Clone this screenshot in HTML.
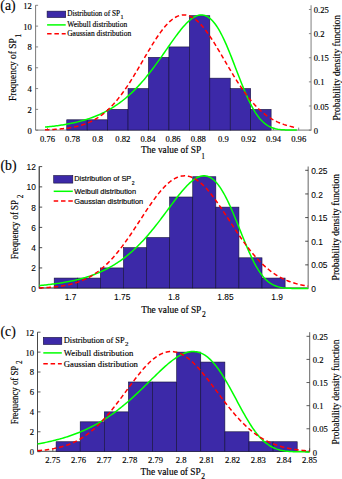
<!DOCTYPE html>
<html><head><meta charset="utf-8"><title>Distributions</title>
<style>html,body{margin:0;padding:0;background:#fff}svg{display:block}text{fill:#000;stroke:#000;stroke-width:0.15px}</style>
</head><body>
<svg width="342" height="479" viewBox="0 0 342 479">
<rect width="342" height="479" fill="#fff"/>
<path d="M35.6 5.2V130.1H311.1" fill="none" stroke="#6a6a6a" stroke-width="0.9"/>
<path d="M311.1 130.54999999999998V5.2" fill="none" stroke="#aaa" stroke-width="1.5"/>
<path d="M35.6 130.20h2.5M35.6 109.38h2.5M35.6 88.57h2.5M35.6 67.75h2.5M35.6 46.93h2.5M35.6 26.12h2.5M35.6 5.30h2.5M311.1 130.10h-2.2M311.1 105.98h-2.2M311.1 81.86h-2.2M311.1 57.74h-2.2M311.1 33.62h-2.2M311.1 9.50h-2.2M47.50 130.1v-2.5M72.62 130.1v-2.5M97.74 130.1v-2.5M122.86 130.1v-2.5M147.98 130.1v-2.5M173.10 130.1v-2.5M198.22 130.1v-2.5M223.34 130.1v-2.5M248.46 130.1v-2.5M273.58 130.1v-2.5M298.70 130.1v-2.5" fill="none" stroke="#6a6a6a" stroke-width="0.8"/>
<rect x="66.75" y="119.79" width="20.44" height="10.31" fill="#3c29a8" stroke="#14103a" stroke-width="0.6"/>
<rect x="87.19" y="119.79" width="20.44" height="10.31" fill="#3c29a8" stroke="#14103a" stroke-width="0.6"/>
<rect x="107.62" y="109.38" width="20.44" height="20.72" fill="#3c29a8" stroke="#14103a" stroke-width="0.6"/>
<rect x="128.06" y="88.57" width="20.44" height="41.53" fill="#3c29a8" stroke="#14103a" stroke-width="0.6"/>
<rect x="148.49" y="57.34" width="20.44" height="72.76" fill="#3c29a8" stroke="#14103a" stroke-width="0.6"/>
<rect x="168.93" y="46.93" width="20.44" height="83.17" fill="#3c29a8" stroke="#14103a" stroke-width="0.6"/>
<rect x="189.36" y="15.71" width="20.44" height="114.39" fill="#3c29a8" stroke="#14103a" stroke-width="0.6"/>
<rect x="209.80" y="78.16" width="20.44" height="51.94" fill="#3c29a8" stroke="#14103a" stroke-width="0.6"/>
<rect x="230.23" y="88.57" width="20.44" height="41.53" fill="#3c29a8" stroke="#14103a" stroke-width="0.6"/>
<rect x="250.67" y="109.38" width="20.44" height="20.72" fill="#3c29a8" stroke="#14103a" stroke-width="0.6"/>
<polyline points="45.00,127.10 46.26,126.98 47.52,126.86 48.78,126.72 50.04,126.59 51.30,126.45 52.55,126.30 53.81,126.15 55.07,125.99 56.33,125.83 57.59,125.66 58.85,125.48 60.11,125.30 61.37,125.11 62.63,124.91 63.89,124.70 65.14,124.49 66.40,124.27 67.66,124.04 68.92,123.80 70.18,123.56 71.44,123.30 72.70,123.04 73.96,122.76 75.22,122.48 76.47,122.19 77.73,121.88 78.99,121.57 80.25,121.24 81.51,120.90 82.77,120.55 84.03,120.18 85.29,119.81 86.55,119.42 87.81,119.01 89.06,118.59 90.32,118.16 91.58,117.72 92.84,117.25 94.10,116.77 95.36,116.28 96.62,115.77 97.88,115.24 99.14,114.69 100.40,114.13 101.66,113.54 102.91,112.94 104.17,112.32 105.43,111.67 106.69,111.01 107.95,110.32 109.21,109.62 110.47,108.89 111.73,108.13 112.99,107.36 114.25,106.56 115.50,105.74 116.76,104.89 118.02,104.01 119.28,103.11 120.54,102.19 121.80,101.23 123.06,100.25 124.32,99.25 125.58,98.21 126.83,97.15 128.09,96.05 129.35,94.93 130.61,93.78 131.87,92.60 133.13,91.39 134.39,90.15 135.65,88.88 136.91,87.58 138.17,86.25 139.43,84.88 140.68,83.49 141.94,82.07 143.20,80.62 144.46,79.14 145.72,77.63 146.98,76.10 148.24,74.53 149.50,72.94 150.76,71.33 152.01,69.69 153.27,68.02 154.53,66.33 155.79,64.62 157.05,62.89 158.31,61.15 159.57,59.38 160.83,57.61 162.09,55.82 163.35,54.02 164.61,52.21 165.86,50.40 167.12,48.59 168.38,46.78 169.64,44.97 170.90,43.18 172.16,41.39 173.42,39.62 174.68,37.87 175.94,36.15 177.19,34.46 178.45,32.79 179.71,31.17 180.97,29.59 182.23,28.06 183.49,26.59 184.75,25.17 186.01,23.82 187.27,22.54 188.53,21.34 189.78,20.23 191.04,19.20 192.30,18.27 193.56,17.43 194.82,16.71 196.08,16.10 197.34,15.61 198.60,15.24 199.86,15.01 201.12,14.91 202.38,14.95 203.63,15.13 204.89,15.46 206.15,15.94 207.41,16.58 208.67,17.38 209.93,18.33 211.19,19.45 212.45,20.72 213.71,22.16 214.97,23.75 216.22,25.51 217.48,27.41 218.74,29.47 220.00,31.68 221.26,34.02 222.52,36.50 223.78,39.11 225.04,41.84 226.30,44.67 227.56,47.61 228.81,50.63 230.07,53.73 231.33,56.90 232.59,60.12 233.85,63.38 235.11,66.66 236.37,69.96 237.63,73.25 238.89,76.53 240.15,79.78 241.40,82.99 242.66,86.14 243.92,89.22 245.18,92.23 246.44,95.14 247.70,97.95 248.96,100.66 250.22,103.25 251.48,105.71 252.74,108.04 253.99,110.24 255.25,112.30 256.51,114.23 257.77,116.02 259.03,117.66 260.29,119.18 261.55,120.56 262.81,121.81 264.07,122.94 265.32,123.96 266.58,124.86 267.84,125.66 269.10,126.36 270.36,126.97 271.62,127.50 272.88,127.95 274.14,128.34 275.40,128.67 276.66,128.95 277.91,129.18 279.17,129.37 280.43,129.53 281.69,129.65 282.95,129.76 284.21,129.84 285.47,129.90 286.73,129.95 287.99,129.99 289.25,130.02 290.50,130.04 291.76,130.06 293.02,130.07 294.28,130.08 295.54,130.09 296.80,130.09" fill="none" stroke="#00ff00" stroke-width="1.5" stroke-linejoin="round"/>
<polyline points="45.00,129.76 46.26,129.72 47.52,129.68 48.78,129.63 50.04,129.58 51.30,129.52 52.55,129.46 53.81,129.40 55.07,129.33 56.33,129.25 57.59,129.16 58.85,129.07 60.11,128.96 61.37,128.85 62.63,128.73 63.89,128.60 65.14,128.46 66.40,128.30 67.66,128.14 68.92,127.95 70.18,127.76 71.44,127.55 72.70,127.32 73.96,127.08 75.22,126.82 76.47,126.54 77.73,126.24 78.99,125.92 80.25,125.57 81.51,125.20 82.77,124.81 84.03,124.39 85.29,123.94 86.55,123.47 87.81,122.96 89.06,122.43 90.32,121.86 91.58,121.26 92.84,120.62 94.10,119.94 95.36,119.23 96.62,118.48 97.88,117.69 99.14,116.86 100.40,115.99 101.66,115.07 102.91,114.11 104.17,113.11 105.43,112.06 106.69,110.96 107.95,109.81 109.21,108.62 110.47,107.38 111.73,106.08 112.99,104.74 114.25,103.35 115.50,101.92 116.76,100.43 118.02,98.89 119.28,97.31 120.54,95.68 121.80,94.00 123.06,92.28 124.32,90.51 125.58,88.70 126.83,86.84 128.09,84.95 129.35,83.02 130.61,81.05 131.87,79.06 133.13,77.03 134.39,74.97 135.65,72.89 136.91,70.78 138.17,68.66 139.43,66.52 140.68,64.37 141.94,62.22 143.20,60.05 144.46,57.89 145.72,55.74 146.98,53.59 148.24,51.46 149.50,49.34 150.76,47.25 152.01,45.18 153.27,43.15 154.53,41.15 155.79,39.19 157.05,37.28 158.31,35.42 159.57,33.61 160.83,31.87 162.09,30.18 163.35,28.57 164.61,27.03 165.86,25.56 167.12,24.18 168.38,22.88 169.64,21.67 170.90,20.55 172.16,19.52 173.42,18.59 174.68,17.76 175.94,17.03 177.19,16.41 178.45,15.89 179.71,15.48 180.97,15.18 182.23,14.99 183.49,14.91 184.75,14.93 186.01,15.07 187.27,15.32 188.53,15.68 189.78,16.14 191.04,16.71 192.30,17.39 193.56,18.17 194.82,19.05 196.08,20.03 197.34,21.10 198.60,22.27 199.86,23.53 201.12,24.87 202.38,26.30 203.63,27.80 204.89,29.38 206.15,31.03 207.41,32.74 208.67,34.52 209.93,36.36 211.19,38.24 212.45,40.18 213.71,42.16 214.97,44.17 216.22,46.23 217.48,48.31 218.74,50.41 220.00,52.54 221.26,54.68 222.52,56.83 223.78,58.99 225.04,61.15 226.30,63.31 227.56,65.46 228.81,67.61 230.07,69.74 231.33,71.85 232.59,73.95 233.85,76.02 235.11,78.06 236.37,80.07 237.63,82.06 238.89,84.00 240.15,85.92 241.40,87.79 242.66,89.62 243.92,91.41 245.18,93.16 246.44,94.86 247.70,96.51 248.96,98.12 250.22,99.68 251.48,101.19 252.74,102.65 253.99,104.07 255.25,105.43 256.51,106.75 257.77,108.01 259.03,109.23 260.29,110.40 261.55,111.52 262.81,112.59 264.07,113.62 265.32,114.61 266.58,115.54 267.84,116.44 269.10,117.29 270.36,118.10 271.62,118.87 272.88,119.60 274.14,120.29 275.40,120.95 276.66,121.57 277.91,122.15 279.17,122.70 280.43,123.22 281.69,123.71 282.95,124.17 284.21,124.61 285.47,125.01 286.73,125.39 287.99,125.75 289.25,126.08 290.50,126.39 291.76,126.68 293.02,126.96 294.28,127.21 295.54,127.44 296.80,127.66" fill="none" stroke="#ff0000" stroke-width="1.5" stroke-dasharray="4.5 2.8" stroke-dashoffset="0"/>
<text x="31.8" y="133.60" text-anchor="end" font-family='"Liberation Serif", serif' font-size="8.6" style="stroke-width:0.15px">0</text>
<text x="31.8" y="112.78" text-anchor="end" font-family='"Liberation Serif", serif' font-size="8.6" style="stroke-width:0.15px">2</text>
<text x="31.8" y="91.97" text-anchor="end" font-family='"Liberation Serif", serif' font-size="8.6" style="stroke-width:0.15px">4</text>
<text x="31.8" y="71.15" text-anchor="end" font-family='"Liberation Serif", serif' font-size="8.6" style="stroke-width:0.15px">6</text>
<text x="31.8" y="50.33" text-anchor="end" font-family='"Liberation Serif", serif' font-size="8.6" style="stroke-width:0.15px">8</text>
<text x="31.8" y="29.52" text-anchor="end" font-family='"Liberation Serif", serif' font-size="8.6" style="stroke-width:0.15px">10</text>
<text x="31.8" y="8.70" text-anchor="end" font-family='"Liberation Serif", serif' font-size="8.6" style="stroke-width:0.15px">12</text>
<text x="313.8" y="133.70" font-family='"Liberation Serif", serif' font-size="8.6" style="stroke-width:0.15px">0</text>
<text x="313.8" y="109.58" font-family='"Liberation Serif", serif' font-size="8.6" style="stroke-width:0.15px">0.05</text>
<text x="313.8" y="85.46" font-family='"Liberation Serif", serif' font-size="8.6" style="stroke-width:0.15px">0.1</text>
<text x="313.8" y="61.34" font-family='"Liberation Serif", serif' font-size="8.6" style="stroke-width:0.15px">0.15</text>
<text x="313.8" y="37.22" font-family='"Liberation Serif", serif' font-size="8.6" style="stroke-width:0.15px">0.2</text>
<text x="313.8" y="13.10" font-family='"Liberation Serif", serif' font-size="8.6" style="stroke-width:0.15px">0.25</text>
<text x="47.50" y="142.0" text-anchor="middle" font-family='"Liberation Serif", serif' font-size="8.6" style="stroke-width:0.15px">0.76</text>
<text x="72.62" y="142.0" text-anchor="middle" font-family='"Liberation Serif", serif' font-size="8.6" style="stroke-width:0.15px">0.78</text>
<text x="97.74" y="142.0" text-anchor="middle" font-family='"Liberation Serif", serif' font-size="8.6" style="stroke-width:0.15px">0.8</text>
<text x="122.86" y="142.0" text-anchor="middle" font-family='"Liberation Serif", serif' font-size="8.6" style="stroke-width:0.15px">0.82</text>
<text x="147.98" y="142.0" text-anchor="middle" font-family='"Liberation Serif", serif' font-size="8.6" style="stroke-width:0.15px">0.84</text>
<text x="173.10" y="142.0" text-anchor="middle" font-family='"Liberation Serif", serif' font-size="8.6" style="stroke-width:0.15px">0.86</text>
<text x="198.22" y="142.0" text-anchor="middle" font-family='"Liberation Serif", serif' font-size="8.6" style="stroke-width:0.15px">0.88</text>
<text x="223.34" y="142.0" text-anchor="middle" font-family='"Liberation Serif", serif' font-size="8.6" style="stroke-width:0.15px">0.9</text>
<text x="248.46" y="142.0" text-anchor="middle" font-family='"Liberation Serif", serif' font-size="8.6" style="stroke-width:0.15px">0.92</text>
<text x="273.58" y="142.0" text-anchor="middle" font-family='"Liberation Serif", serif' font-size="8.6" style="stroke-width:0.15px">0.94</text>
<text x="298.70" y="142.0" text-anchor="middle" font-family='"Liberation Serif", serif' font-size="8.6" style="stroke-width:0.15px">0.96</text>
<text x="141" y="153.1" font-family='"Liberation Serif", serif' font-size="9.4">The value of SP<tspan dy="5.5" dx="0.2" font-size="7.5">1</tspan></text>
<text transform="translate(15.8 100.9) rotate(-90) scale(0.96 1)" font-family='"Liberation Serif", serif' font-size="9.8">Frequency of SP<tspan dy="5.5" dx="0.8" font-size="7.5">1</tspan></text>
<text transform="translate(339.6 120.4) rotate(-90) scale(0.985 1)" font-family='"Liberation Serif", serif' font-size="9.6">Probability density function</text>
<text transform="translate(0.3 10.4) scale(0.93 1)" font-family='"Liberation Serif", serif' font-size="14.8">(a)</text>
<rect x="47.1" y="11.149999999999999" width="18.6" height="6.4" fill="#3c29a8" stroke="#14103a" stroke-width="0.6"/>
<path d="M47.1 24.9H65.7" stroke="#00ff00" stroke-width="1.5"/>
<path d="M47.1 33.7H65.7" stroke="#ff0000" stroke-width="1.5" stroke-dasharray="4.5 2.8"/>
<text x="67.2" y="15.7" font-family='"Liberation Serif", serif' font-size="7.25">Distribution of SP<tspan dy="3.5" dx="0.5" font-size="6">1</tspan></text>
<text x="67.2" y="27.2" font-family='"Liberation Serif", serif' font-size="7.5">Weibull distribution</text>
<text x="67.2" y="36.1" font-family='"Liberation Serif", serif' font-size="7.5">Gaussian distribution</text>
<path d="M39.2 166.4V288.0H308.2" fill="none" stroke="#222" stroke-width="1.1"/>
<path d="M308.2 288.55V166.4" fill="none" stroke="#888" stroke-width="1.3"/>
<path d="M39.2 288.20h3M39.2 267.93h3M39.2 247.67h3M39.2 227.40h3M39.2 207.13h3M39.2 186.87h3M39.2 166.60h3M308.2 288.50h-3M308.2 264.86h-3M308.2 241.22h-3M308.2 217.58h-3M308.2 193.94h-3M308.2 170.30h-3M70.50 288.0v-3M122.18 288.0v-3M173.85 288.0v-3M225.53 288.0v-3M277.20 288.0v-3" fill="none" stroke="#222" stroke-width="0.8"/>
<rect x="54.20" y="278.07" width="23.09" height="9.93" fill="#3c29a8" stroke="#14103a" stroke-width="0.6"/>
<rect x="77.29" y="278.07" width="23.09" height="9.93" fill="#3c29a8" stroke="#14103a" stroke-width="0.6"/>
<rect x="100.38" y="267.93" width="23.09" height="20.07" fill="#3c29a8" stroke="#14103a" stroke-width="0.6"/>
<rect x="123.47" y="247.67" width="23.09" height="40.33" fill="#3c29a8" stroke="#14103a" stroke-width="0.6"/>
<rect x="146.56" y="237.53" width="23.09" height="50.47" fill="#3c29a8" stroke="#14103a" stroke-width="0.6"/>
<rect x="169.65" y="197.00" width="23.09" height="91.00" fill="#3c29a8" stroke="#14103a" stroke-width="0.6"/>
<rect x="192.74" y="176.73" width="23.09" height="111.27" fill="#3c29a8" stroke="#14103a" stroke-width="0.6"/>
<rect x="215.83" y="207.13" width="23.09" height="80.87" fill="#3c29a8" stroke="#14103a" stroke-width="0.6"/>
<rect x="238.92" y="257.80" width="23.09" height="30.20" fill="#3c29a8" stroke="#14103a" stroke-width="0.6"/>
<rect x="262.01" y="278.07" width="23.09" height="9.93" fill="#3c29a8" stroke="#14103a" stroke-width="0.6"/>
<polyline points="39.20,285.52 40.55,285.40 41.89,285.28 43.23,285.15 44.58,285.01 45.93,284.88 47.27,284.73 48.62,284.59 49.96,284.43 51.31,284.27 52.65,284.11 54.00,283.93 55.34,283.75 56.69,283.57 58.03,283.38 59.38,283.18 60.72,282.97 62.06,282.75 63.41,282.53 64.75,282.30 66.10,282.06 67.45,281.81 68.79,281.55 70.14,281.29 71.48,281.01 72.83,280.72 74.17,280.42 75.52,280.11 76.86,279.79 78.21,279.46 79.55,279.12 80.90,278.76 82.24,278.39 83.59,278.01 84.93,277.62 86.28,277.21 87.62,276.78 88.97,276.34 90.31,275.89 91.66,275.42 93.00,274.93 94.34,274.43 95.69,273.91 97.03,273.37 98.38,272.82 99.72,272.24 101.07,271.65 102.42,271.03 103.76,270.40 105.11,269.74 106.45,269.07 107.80,268.37 109.14,267.65 110.48,266.90 111.83,266.14 113.17,265.34 114.52,264.53 115.87,263.69 117.21,262.82 118.56,261.93 119.90,261.01 121.25,260.06 122.59,259.08 123.94,258.08 125.28,257.05 126.62,255.99 127.97,254.90 129.31,253.78 130.66,252.63 132.00,251.45 133.35,250.24 134.69,248.99 136.04,247.72 137.38,246.42 138.73,245.08 140.07,243.72 141.42,242.32 142.76,240.90 144.11,239.44 145.45,237.95 146.80,236.44 148.14,234.89 149.49,233.32 150.84,231.72 152.18,230.09 153.53,228.44 154.87,226.76 156.22,225.06 157.56,223.34 158.91,221.59 160.25,219.83 161.59,218.06 162.94,216.27 164.28,214.47 165.63,212.66 166.98,210.85 168.32,209.03 169.67,207.21 171.01,205.40 172.36,203.59 173.70,201.80 175.05,200.02 176.39,198.26 177.74,196.53 179.08,194.83 180.43,193.16 181.77,191.53 183.12,189.95 184.46,188.41 185.81,186.94 187.15,185.53 188.50,184.18 189.84,182.92 191.19,181.73 192.53,180.64 193.88,179.64 195.22,178.74 196.56,177.95 197.91,177.27 199.25,176.72 200.60,176.30 201.94,176.00 203.29,175.85 204.63,175.85 205.98,175.99 207.32,176.29 208.67,176.75 210.01,177.37 211.36,178.16 212.70,179.11 214.05,180.24 215.39,181.53 216.74,183.00 218.08,184.63 219.43,186.44 220.77,188.40 222.12,190.53 223.46,192.81 224.81,195.24 226.16,197.81 227.50,200.52 228.85,203.35 230.19,206.29 231.54,209.33 232.88,212.47 234.23,215.68 235.57,218.95 236.92,222.27 238.26,225.63 239.61,229.00 240.95,232.38 242.30,235.74 243.64,239.07 244.99,242.36 246.33,245.60 247.68,248.76 249.02,251.83 250.37,254.81 251.71,257.68 253.06,260.43 254.40,263.05 255.75,265.54 257.09,267.88 258.44,270.08 259.78,272.13 261.12,274.03 262.47,275.79 263.81,277.39 265.16,278.85 266.50,280.17 267.85,281.36 269.19,282.42 270.54,283.36 271.88,284.18 273.23,284.90 274.57,285.52 275.92,286.05 277.26,286.51 278.61,286.89 279.95,287.21 281.30,287.48 282.64,287.70 283.99,287.88 285.33,288.02 286.68,288.13 288.02,288.22 289.37,288.29 290.71,288.35 292.06,288.39 293.41,288.42 294.75,288.44 296.09,288.46 297.44,288.47 298.78,288.48 300.13,288.49 301.47,288.49 302.82,288.49 304.16,288.50 305.51,288.50 306.85,288.50 308.20,288.50" fill="none" stroke="#00ff00" stroke-width="1.5" stroke-linejoin="round"/>
<polyline points="39.20,287.96 40.55,287.90 41.89,287.84 43.23,287.77 44.58,287.70 45.93,287.62 47.27,287.54 48.62,287.44 49.96,287.34 51.31,287.23 52.65,287.11 54.00,286.98 55.34,286.84 56.69,286.69 58.03,286.53 59.38,286.35 60.72,286.16 62.06,285.96 63.41,285.74 64.75,285.50 66.10,285.25 67.45,284.98 68.79,284.69 70.14,284.38 71.48,284.05 72.83,283.69 74.17,283.32 75.52,282.92 76.86,282.49 78.21,282.04 79.55,281.55 80.90,281.04 82.24,280.50 83.59,279.93 84.93,279.33 86.28,278.69 87.62,278.02 88.97,277.31 90.31,276.56 91.66,275.78 93.00,274.96 94.34,274.09 95.69,273.19 97.03,272.24 98.38,271.26 99.72,270.22 101.07,269.15 102.42,268.03 103.76,266.86 105.11,265.65 106.45,264.40 107.80,263.09 109.14,261.75 110.48,260.35 111.83,258.91 113.17,257.43 114.52,255.90 115.87,254.32 117.21,252.71 118.56,251.05 119.90,249.35 121.25,247.61 122.59,245.83 123.94,244.01 125.28,242.16 126.62,240.28 127.97,238.37 129.31,236.42 130.66,234.46 132.00,232.46 133.35,230.45 134.69,228.42 136.04,226.38 137.38,224.33 138.73,222.27 140.07,220.20 141.42,218.14 142.76,216.08 144.11,214.02 145.45,211.98 146.80,209.95 148.14,207.95 149.49,205.97 150.84,204.01 152.18,202.09 153.53,200.21 154.87,198.37 156.22,196.57 157.56,194.82 158.91,193.13 160.25,191.50 161.59,189.92 162.94,188.42 164.28,186.98 165.63,185.62 166.98,184.33 168.32,183.12 169.67,182.00 171.01,180.97 172.36,180.02 173.70,179.16 175.05,178.40 176.39,177.73 177.74,177.16 179.08,176.70 180.43,176.33 181.77,176.06 183.12,175.89 184.46,175.83 185.81,175.87 187.15,176.02 188.50,176.26 189.84,176.61 191.19,177.06 192.53,177.61 193.88,178.25 195.22,178.99 196.56,179.83 197.91,180.76 199.25,181.78 200.60,182.88 201.94,184.07 203.29,185.34 204.63,186.69 205.98,188.11 207.32,189.61 208.67,191.16 210.01,192.79 211.36,194.47 212.70,196.20 214.05,197.99 215.39,199.82 216.74,201.70 218.08,203.61 219.43,205.56 220.77,207.53 222.12,209.54 223.46,211.56 224.81,213.60 226.16,215.65 227.50,217.71 228.85,219.77 230.19,221.84 231.54,223.90 232.88,225.95 234.23,228.00 235.57,230.03 236.92,232.05 238.26,234.04 239.61,236.02 240.95,237.96 242.30,239.88 243.64,241.77 244.99,243.63 246.33,245.45 247.68,247.24 249.02,248.99 250.37,250.70 251.71,252.36 253.06,253.99 254.40,255.57 255.75,257.11 257.09,258.61 258.44,260.06 259.78,261.46 261.12,262.82 262.47,264.13 263.81,265.40 265.16,266.62 266.50,267.79 267.85,268.92 269.19,270.00 270.54,271.05 271.88,272.04 273.23,273.00 274.57,273.91 275.92,274.78 277.26,275.61 278.61,276.40 279.95,277.16 281.30,277.87 282.64,278.55 283.99,279.20 285.33,279.81 286.68,280.39 288.02,280.93 289.37,281.45 290.71,281.94 292.06,282.40 293.41,282.83 294.75,283.24 296.09,283.62 297.44,283.98 298.78,284.31 300.13,284.63 301.47,284.92 302.82,285.19 304.16,285.45 305.51,285.69 306.85,285.91 308.20,286.12" fill="none" stroke="#ff0000" stroke-width="1.5" stroke-dasharray="4.5 2.8" stroke-dashoffset="0"/>
<text x="35.8" y="291.70" text-anchor="end" font-family='"Liberation Sans", sans-serif' font-size="8.4" style="stroke-width:0.08px">0</text>
<text x="35.8" y="271.43" text-anchor="end" font-family='"Liberation Sans", sans-serif' font-size="8.4" style="stroke-width:0.08px">2</text>
<text x="35.8" y="251.17" text-anchor="end" font-family='"Liberation Sans", sans-serif' font-size="8.4" style="stroke-width:0.08px">4</text>
<text x="35.8" y="230.90" text-anchor="end" font-family='"Liberation Sans", sans-serif' font-size="8.4" style="stroke-width:0.08px">6</text>
<text x="35.8" y="210.63" text-anchor="end" font-family='"Liberation Sans", sans-serif' font-size="8.4" style="stroke-width:0.08px">8</text>
<text x="35.8" y="190.37" text-anchor="end" font-family='"Liberation Sans", sans-serif' font-size="8.4" style="stroke-width:0.08px">10</text>
<text x="35.8" y="170.10" text-anchor="end" font-family='"Liberation Sans", sans-serif' font-size="8.4" style="stroke-width:0.08px">12</text>
<text x="311.2" y="292.10" font-family='"Liberation Sans", sans-serif' font-size="8.4" style="stroke-width:0.08px">0</text>
<text x="311.2" y="268.46" font-family='"Liberation Sans", sans-serif' font-size="8.4" style="stroke-width:0.08px">0.05</text>
<text x="311.2" y="244.82" font-family='"Liberation Sans", sans-serif' font-size="8.4" style="stroke-width:0.08px">0.1</text>
<text x="311.2" y="221.18" font-family='"Liberation Sans", sans-serif' font-size="8.4" style="stroke-width:0.08px">0.15</text>
<text x="311.2" y="197.54" font-family='"Liberation Sans", sans-serif' font-size="8.4" style="stroke-width:0.08px">0.2</text>
<text x="311.2" y="173.90" font-family='"Liberation Sans", sans-serif' font-size="8.4" style="stroke-width:0.08px">0.25</text>
<text x="70.50" y="300.4" text-anchor="middle" font-family='"Liberation Sans", sans-serif' font-size="8.4" style="stroke-width:0.08px">1.7</text>
<text x="122.18" y="300.4" text-anchor="middle" font-family='"Liberation Sans", sans-serif' font-size="8.4" style="stroke-width:0.08px">1.75</text>
<text x="173.85" y="300.4" text-anchor="middle" font-family='"Liberation Sans", sans-serif' font-size="8.4" style="stroke-width:0.08px">1.8</text>
<text x="225.53" y="300.4" text-anchor="middle" font-family='"Liberation Sans", sans-serif' font-size="8.4" style="stroke-width:0.08px">1.85</text>
<text x="277.20" y="300.4" text-anchor="middle" font-family='"Liberation Sans", sans-serif' font-size="8.4" style="stroke-width:0.08px">1.9</text>
<text x="141.2" y="312.5" font-family='"Liberation Serif", serif' font-size="9.4">The value of SP<tspan dy="4.3" dx="0.6" font-size="7.6">2</tspan></text>
<text transform="translate(18.3 259.2) rotate(-90) scale(0.935 1)" font-family='"Liberation Serif", serif' font-size="9.5">Frequency of SP<tspan dy="4.3" dx="2.0" font-size="7.6">2</tspan></text>
<text transform="translate(339.0 280.4) rotate(-90) scale(0.974 1)" font-family='"Liberation Serif", serif' font-size="9.8">Probability density function</text>
<text transform="translate(0.5 169.9) scale(0.93 1)" font-family='"Liberation Serif", serif' font-size="14.8">(b)</text>
<rect x="53.7" y="175.5" width="19.099999999999994" height="7.6" fill="#3c29a8" stroke="#14103a" stroke-width="0.6"/>
<path d="M53.7 191.3H72.8" stroke="#00ff00" stroke-width="1.5"/>
<path d="M53.7 201.0H72.8" stroke="#ff0000" stroke-width="1.5" stroke-dasharray="4.5 2.8"/>
<text x="74.2" y="181.0" font-family='"Liberation Sans", sans-serif' font-size="7.4">Distribution of SP<tspan dy="3.5" dx="0.5" font-size="5">2</tspan></text>
<text x="74.2" y="193.9" font-family='"Liberation Sans", sans-serif' font-size="7.4">Weibull distribution</text>
<text x="74.2" y="203.7" font-family='"Liberation Sans", sans-serif' font-size="7.4">Gaussian distribution</text>
<path d="M37.5 332.2V451.3H309.7" fill="none" stroke="#333" stroke-width="0.9"/>
<path d="M309.7 451.75V332.2" fill="none" stroke="#555" stroke-width="0.9"/>
<path d="M37.5 451.70h3M37.5 431.78h3M37.5 411.87h3M37.5 391.95h3M37.5 372.03h3M37.5 352.12h3M37.5 332.20h3M309.7 451.90h-3.2M309.7 428.78h-3.2M309.7 405.66h-3.2M309.7 382.54h-3.2M309.7 359.42h-3.2M309.7 336.30h-3.2M52.80 451.3v-3M78.48 451.3v-3M104.16 451.3v-3M129.84 451.3v-3M155.52 451.3v-3M181.20 451.3v-3M206.88 451.3v-3M232.56 451.3v-3M258.24 451.3v-3M283.92 451.3v-3M309.60 451.3v-3" fill="none" stroke="#333" stroke-width="0.8"/>
<rect x="56.10" y="441.74" width="24.11" height="9.56" fill="#3c29a8" stroke="#14103a" stroke-width="0.6"/>
<rect x="80.21" y="421.82" width="24.11" height="29.48" fill="#3c29a8" stroke="#14103a" stroke-width="0.6"/>
<rect x="104.32" y="411.87" width="24.11" height="39.43" fill="#3c29a8" stroke="#14103a" stroke-width="0.6"/>
<rect x="128.43" y="381.99" width="24.11" height="69.31" fill="#3c29a8" stroke="#14103a" stroke-width="0.6"/>
<rect x="152.54" y="381.99" width="24.11" height="69.31" fill="#3c29a8" stroke="#14103a" stroke-width="0.6"/>
<rect x="176.65" y="352.12" width="24.11" height="99.18" fill="#3c29a8" stroke="#14103a" stroke-width="0.6"/>
<rect x="200.76" y="362.07" width="24.11" height="89.23" fill="#3c29a8" stroke="#14103a" stroke-width="0.6"/>
<rect x="224.87" y="431.78" width="24.11" height="19.52" fill="#3c29a8" stroke="#14103a" stroke-width="0.6"/>
<rect x="248.98" y="441.74" width="24.11" height="9.56" fill="#3c29a8" stroke="#14103a" stroke-width="0.6"/>
<rect x="273.09" y="441.74" width="24.11" height="9.56" fill="#3c29a8" stroke="#14103a" stroke-width="0.6"/>
<polyline points="37.50,443.96 38.86,443.71 40.22,443.47 41.58,443.21 42.94,442.94 44.30,442.67 45.67,442.39 47.03,442.11 48.39,441.81 49.75,441.51 51.11,441.19 52.47,440.87 53.83,440.54 55.19,440.20 56.55,439.85 57.91,439.49 59.28,439.12 60.64,438.74 62.00,438.35 63.36,437.95 64.72,437.53 66.08,437.11 67.44,436.67 68.80,436.22 70.16,435.76 71.53,435.29 72.89,434.81 74.25,434.31 75.61,433.80 76.97,433.27 78.33,432.73 79.69,432.18 81.05,431.61 82.41,431.03 83.77,430.44 85.13,429.82 86.50,429.20 87.86,428.55 89.22,427.90 90.58,427.22 91.94,426.53 93.30,425.82 94.66,425.10 96.02,424.35 97.38,423.59 98.75,422.82 100.11,422.02 101.47,421.21 102.83,420.38 104.19,419.53 105.55,418.66 106.91,417.77 108.27,416.87 109.63,415.94 110.99,415.00 112.36,414.04 113.72,413.06 115.08,412.06 116.44,411.04 117.80,410.00 119.16,408.95 120.52,407.87 121.88,406.78 123.24,405.67 124.60,404.54 125.97,403.39 127.33,402.22 128.69,401.04 130.05,399.85 131.41,398.63 132.77,397.40 134.13,396.16 135.49,394.90 136.85,393.63 138.21,392.35 139.57,391.06 140.94,389.75 142.30,388.44 143.66,387.12 145.02,385.79 146.38,384.45 147.74,383.12 149.10,381.77 150.46,380.43 151.82,379.09 153.19,377.75 154.55,376.42 155.91,375.09 157.27,373.77 158.63,372.46 159.99,371.16 161.35,369.88 162.71,368.62 164.07,367.38 165.43,366.16 166.79,364.96 168.16,363.80 169.52,362.67 170.88,361.57 172.24,360.51 173.60,359.49 174.96,358.52 176.32,357.60 177.68,356.73 179.04,355.91 180.41,355.15 181.77,354.45 183.13,353.82 184.49,353.26 185.85,352.77 187.21,352.35 188.57,352.02 189.93,351.76 191.29,351.60 192.65,351.52 194.01,351.53 195.38,351.64 196.74,351.84 198.10,352.15 199.46,352.55 200.82,353.06 202.18,353.68 203.54,354.39 204.90,355.22 206.26,356.15 207.62,357.20 208.99,358.34 210.35,359.60 211.71,360.96 213.07,362.43 214.43,363.99 215.79,365.66 217.15,367.43 218.51,369.28 219.87,371.23 221.24,373.26 222.60,375.37 223.96,377.56 225.32,379.81 226.68,382.13 228.04,384.50 229.40,386.92 230.76,389.38 232.12,391.88 233.48,394.40 234.84,396.94 236.21,399.48 237.57,402.03 238.93,404.57 240.29,407.10 241.65,409.59 243.01,412.06 244.37,414.49 245.73,416.86 247.09,419.19 248.46,421.45 249.82,423.64 251.18,425.76 252.54,427.80 253.90,429.75 255.26,431.62 256.62,433.40 257.98,435.08 259.34,436.67 260.70,438.17 262.06,439.56 263.43,440.86 264.79,442.07 266.15,443.18 267.51,444.21 268.87,445.14 270.23,445.99 271.59,446.76 272.95,447.45 274.31,448.07 275.68,448.62 277.04,449.11 278.40,449.54 279.76,449.91 281.12,450.24 282.48,450.52 283.84,450.76 285.20,450.97 286.56,451.14 287.92,451.28 289.28,451.41 290.65,451.51 292.01,451.59 293.37,451.66 294.73,451.71 296.09,451.75 297.45,451.79 298.81,451.82 300.17,451.84 301.53,451.85 302.89,451.87 304.26,451.87 305.62,451.88 306.98,451.89 308.34,451.89 309.70,451.89" fill="none" stroke="#00ff00" stroke-width="1.5" stroke-linejoin="round"/>
<polyline points="37.50,450.72 38.86,450.60 40.22,450.48 41.58,450.35 42.94,450.21 44.30,450.06 45.67,449.89 47.03,449.72 48.39,449.53 49.75,449.32 51.11,449.10 52.47,448.87 53.83,448.62 55.19,448.35 56.55,448.06 57.91,447.75 59.28,447.42 60.64,447.07 62.00,446.70 63.36,446.30 64.72,445.88 66.08,445.43 67.44,444.96 68.80,444.46 70.16,443.93 71.53,443.37 72.89,442.78 74.25,442.15 75.61,441.50 76.97,440.81 78.33,440.08 79.69,439.32 81.05,438.52 82.41,437.69 83.77,436.82 85.13,435.90 86.50,434.95 87.86,433.96 89.22,432.93 90.58,431.86 91.94,430.74 93.30,429.59 94.66,428.39 96.02,427.16 97.38,425.88 98.75,424.56 100.11,423.20 101.47,421.80 102.83,420.36 104.19,418.88 105.55,417.37 106.91,415.82 108.27,414.23 109.63,412.61 110.99,410.96 112.36,409.28 113.72,407.58 115.08,405.84 116.44,404.08 117.80,402.30 119.16,400.50 120.52,398.69 121.88,396.86 123.24,395.03 124.60,393.18 125.97,391.33 127.33,389.48 128.69,387.64 130.05,385.80 131.41,383.97 132.77,382.15 134.13,380.35 135.49,378.57 136.85,376.82 138.21,375.10 139.57,373.41 140.94,371.75 142.30,370.14 143.66,368.57 145.02,367.05 146.38,365.58 147.74,364.17 149.10,362.82 150.46,361.53 151.82,360.30 153.19,359.14 154.55,358.06 155.91,357.05 157.27,356.12 158.63,355.27 159.99,354.50 161.35,353.81 162.71,353.22 164.07,352.71 165.43,352.28 166.79,351.95 168.16,351.72 169.52,351.57 170.88,351.51 172.24,351.55 173.60,351.68 174.96,351.89 176.32,352.20 177.68,352.59 179.04,353.07 180.41,353.63 181.77,354.28 183.13,355.02 184.49,355.83 185.85,356.72 187.21,357.69 188.57,358.73 189.93,359.84 191.29,361.02 192.65,362.26 194.01,363.57 195.38,364.93 196.74,366.35 198.10,367.83 199.46,369.35 200.82,370.91 202.18,372.52 203.54,374.17 204.90,375.85 206.26,377.56 207.62,379.29 208.99,381.05 210.35,382.83 211.71,384.62 213.07,386.43 214.43,388.24 215.79,390.06 217.15,391.88 218.51,393.70 219.87,395.52 221.24,397.33 222.60,399.12 223.96,400.91 225.32,402.67 226.68,404.42 228.04,406.15 229.40,407.85 230.76,409.53 232.12,411.18 233.48,412.80 234.84,414.39 236.21,415.95 237.57,417.47 238.93,418.96 240.29,420.41 241.65,421.83 243.01,423.21 244.37,424.55 245.73,425.85 247.09,427.11 248.46,428.33 249.82,429.51 251.18,430.65 252.54,431.75 253.90,432.81 255.26,433.83 256.62,434.81 257.98,435.75 259.34,436.66 260.70,437.52 262.06,438.35 263.43,439.15 264.79,439.90 266.15,440.63 267.51,441.31 268.87,441.97 270.23,442.59 271.59,443.18 272.95,443.75 274.31,444.28 275.68,444.78 277.04,445.26 278.40,445.71 279.76,446.13 281.12,446.53 282.48,446.91 283.84,447.26 285.20,447.60 286.56,447.91 287.92,448.20 289.28,448.48 290.65,448.74 292.01,448.98 293.37,449.20 294.73,449.41 296.09,449.61 297.45,449.79 298.81,449.96 300.17,450.12 301.53,450.26 302.89,450.40 304.26,450.52 305.62,450.64 306.98,450.75 308.34,450.84 309.70,450.94" fill="none" stroke="#ff0000" stroke-width="1.5" stroke-dasharray="4.5 2.8" stroke-dashoffset="0"/>
<text x="34.1" y="455.10" text-anchor="end" font-family='"Liberation Serif", serif' font-size="8.6" style="stroke-width:0.15px">0</text>
<text x="34.1" y="435.18" text-anchor="end" font-family='"Liberation Serif", serif' font-size="8.6" style="stroke-width:0.15px">2</text>
<text x="34.1" y="415.27" text-anchor="end" font-family='"Liberation Serif", serif' font-size="8.6" style="stroke-width:0.15px">4</text>
<text x="34.1" y="395.35" text-anchor="end" font-family='"Liberation Serif", serif' font-size="8.6" style="stroke-width:0.15px">6</text>
<text x="34.1" y="375.43" text-anchor="end" font-family='"Liberation Serif", serif' font-size="8.6" style="stroke-width:0.15px">8</text>
<text x="34.1" y="355.52" text-anchor="end" font-family='"Liberation Serif", serif' font-size="8.6" style="stroke-width:0.15px">10</text>
<text x="34.1" y="335.60" text-anchor="end" font-family='"Liberation Serif", serif' font-size="8.6" style="stroke-width:0.15px">12</text>
<text x="312.7" y="455.50" font-family='"Liberation Serif", serif' font-size="8.6" style="stroke-width:0.15px">0</text>
<text x="312.7" y="432.38" font-family='"Liberation Serif", serif' font-size="8.6" style="stroke-width:0.15px">0.05</text>
<text x="312.7" y="409.26" font-family='"Liberation Serif", serif' font-size="8.6" style="stroke-width:0.15px">0.1</text>
<text x="312.7" y="386.14" font-family='"Liberation Serif", serif' font-size="8.6" style="stroke-width:0.15px">0.15</text>
<text x="312.7" y="363.02" font-family='"Liberation Serif", serif' font-size="8.6" style="stroke-width:0.15px">0.2</text>
<text x="312.7" y="339.90" font-family='"Liberation Serif", serif' font-size="8.6" style="stroke-width:0.15px">0.25</text>
<text x="52.80" y="463.3" text-anchor="middle" font-family='"Liberation Serif", serif' font-size="8.6" style="stroke-width:0.15px">2.75</text>
<text x="78.48" y="463.3" text-anchor="middle" font-family='"Liberation Serif", serif' font-size="8.6" style="stroke-width:0.15px">2.76</text>
<text x="104.16" y="463.3" text-anchor="middle" font-family='"Liberation Serif", serif' font-size="8.6" style="stroke-width:0.15px">2.77</text>
<text x="129.84" y="463.3" text-anchor="middle" font-family='"Liberation Serif", serif' font-size="8.6" style="stroke-width:0.15px">2.78</text>
<text x="155.52" y="463.3" text-anchor="middle" font-family='"Liberation Serif", serif' font-size="8.6" style="stroke-width:0.15px">2.79</text>
<text x="181.20" y="463.3" text-anchor="middle" font-family='"Liberation Serif", serif' font-size="8.6" style="stroke-width:0.15px">2.8</text>
<text x="206.88" y="463.3" text-anchor="middle" font-family='"Liberation Serif", serif' font-size="8.6" style="stroke-width:0.15px">2.81</text>
<text x="232.56" y="463.3" text-anchor="middle" font-family='"Liberation Serif", serif' font-size="8.6" style="stroke-width:0.15px">2.82</text>
<text x="258.24" y="463.3" text-anchor="middle" font-family='"Liberation Serif", serif' font-size="8.6" style="stroke-width:0.15px">2.83</text>
<text x="283.92" y="463.3" text-anchor="middle" font-family='"Liberation Serif", serif' font-size="8.6" style="stroke-width:0.15px">2.84</text>
<text x="309.60" y="463.3" text-anchor="middle" font-family='"Liberation Serif", serif' font-size="8.6" style="stroke-width:0.15px">2.85</text>
<text x="140.6" y="474.6" font-family='"Liberation Serif", serif' font-size="9.4">The value of SP<tspan dy="4.4" dx="0.6" font-size="7.6">2</tspan></text>
<text transform="translate(18.0 424.2) rotate(-90) scale(0.922 1)" font-family='"Liberation Serif", serif' font-size="9.5">Frequency of SP<tspan dy="4.4" dx="2.0" font-size="7.6">2</tspan></text>
<text transform="translate(339.2 444.5) rotate(-90) scale(0.96 1)" font-family='"Liberation Serif", serif' font-size="9.8">Probability density function</text>
<text transform="translate(0.5 336.1) scale(0.93 1)" font-family='"Liberation Serif", serif' font-size="14.8">(c)</text>
<rect x="43.3" y="337.4" width="18.5" height="7.1" fill="#3c29a8" stroke="#14103a" stroke-width="0.6"/>
<path d="M43.3 352.9H61.8" stroke="#00ff00" stroke-width="1.5"/>
<path d="M43.3 363.8H61.8" stroke="#ff0000" stroke-width="1.5" stroke-dasharray="4.5 2.8"/>
<text x="63.8" y="342.7" font-family='"Liberation Serif", serif' font-size="8.35">Distribution of SP<tspan dy="3.6" dx="0.5" font-size="7">2</tspan></text>
<text x="63.8" y="356.4" font-family='"Liberation Serif", serif' font-size="8.7">Weibull distribution</text>
<text x="63.8" y="366.5" font-family='"Liberation Serif", serif' font-size="8.7">Gaussian distribution</text>
</svg>
</body></html>
